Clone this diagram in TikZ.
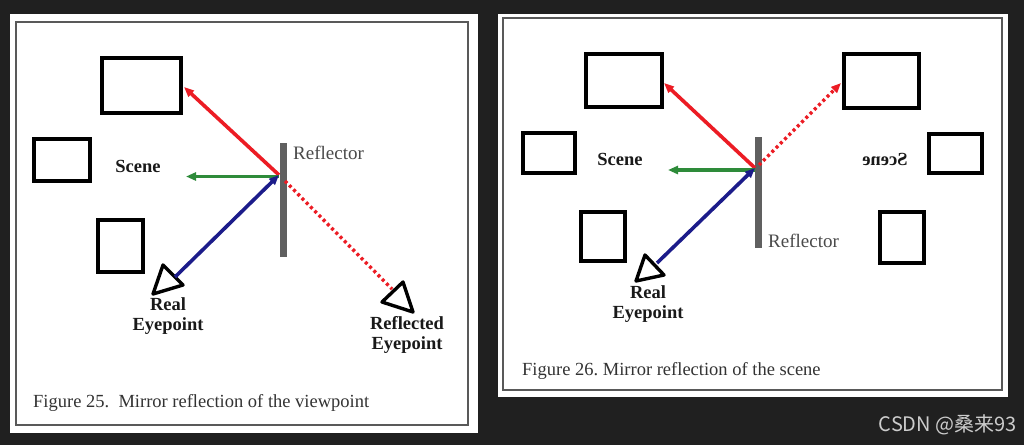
\documentclass[tikz,border=0pt]{standalone}
\usepackage{fontspec}
\setmainfont{Liberation Serif}
\newfontfamily\cjkfont{Noto Sans CJK SC}
\usetikzlibrary{arrows.meta}
\definecolor{bgdark}{HTML}{202020}
\definecolor{rayred}{HTML}{EC1C24}
\definecolor{raygreen}{HTML}{2E8B3A}
\definecolor{rayblue}{HTML}{1C1C8A}
\definecolor{mirrorgray}{HTML}{606060}
\definecolor{labelgray}{HTML}{4A4A4A}
\tikzset{
  objbox/.style={draw=black, line width=4pt, minimum width=#1, inner sep=0pt, fill=white},
  ray/.style={line width=3.6pt, -{Triangle[length=10pt,width=8pt]}},
  dotray/.style={line width=3.4pt, dash pattern=on 3pt off 3pt},
  mirror/.style={draw=mirrorgray, line width=7pt},
  eye/.style={draw=black, line width=3.4pt, line join=round},
  lbl/.style={inner sep=0pt, font=\fontsize{18.5}{20}\selectfont\bfseries, text=black!90, align=center},
  reflbl/.style={inner sep=0pt, anchor=west, font=\fontsize{19}{20}\selectfont, text=labelgray},
  caption/.style={inner sep=0pt, anchor=west, font=\fontsize{18.5}{20}\selectfont, text=black!80},
  panel/.style={fill=white},
  frame/.style={draw=black!65, line width=1.4pt}
}
\begin{document}
\begin{tikzpicture}[x=1pt,y=-1pt]
\useasboundingbox (0,0) rectangle (1024,445);
\fill[bgdark] (0,0) rectangle (1024,445);

% ---------- left panel ----------
\fill[panel] (10,14) rectangle (478,433);
\draw[frame] (16,22) rectangle (468,425);

\node[objbox=79pt, minimum height=55pt] (lt) at (141.5,85.5) {};
\node[objbox=56pt, minimum height=42pt] (lm) at (62,160) {};
\node[objbox=45pt, minimum height=52pt] (lb) at (120.5,246) {};

\draw[mirror] (283,143) -- (283,257);
\coordinate (p1) at (279,175);
\coordinate (p1b) at (285,181);
\coordinate (ltTip) at (184,87);
\coordinate (lgTip) at (186,176.5);
\coordinate (lgStart) at (279,176.5);
\coordinate (leye) at (175,277);
\coordinate (reye) at (392,289);

\draw[eye] (153,294) -- (163,265) -- (183,285) -- cycle;
\draw[eye] (382,302) -- (403,282) -- (413,312) -- cycle;

\draw[ray, rayred] (p1) -- (ltTip);
\draw[ray, raygreen] (lgStart) -- (lgTip);
\draw[ray, rayblue] (leye) -- (p1);
\draw[dotray, rayred] (p1b) -- (reye);

\node[lbl] (lscene) at (138,166) {Scene};
\node[reflbl] (lrefl) at (293,153) {Reflector};
\node[lbl] (lreal) at (168,316) {Real\\Eyepoint};
\node[lbl] (lrefeye) at (407,335) {Reflected\\Eyepoint};
\node[caption] (lcap) at (33,403) {Figure 25.\ \ Mirror reflection of the viewpoint};

% ---------- right panel ----------
\fill[panel] (498,14) rectangle (1008,397);
\draw[frame] (503,18) rectangle (1002,390);

\node[objbox=76pt, minimum height=53pt] (rtl) at (624,80.5) {};
\node[objbox=52pt, minimum height=40pt] (rml) at (549,153) {};
\node[objbox=44pt, minimum height=49pt] (rbl) at (603,236.5) {};
\node[objbox=75pt, minimum height=54pt] (rtr) at (881.5,81) {};
\node[objbox=53pt, minimum height=39pt] (rmr) at (955.5,153.5) {};
\node[objbox=44pt, minimum height=51pt] (rbr) at (902,237.5) {};

\draw[mirror] (758,137) -- (758,248);
\coordinate (p2) at (755,168);
\coordinate (p2b) at (759,165);
\coordinate (rtTip) at (664,83);
\coordinate (rgTip) at (668,170);
\coordinate (rgStart) at (755,170);
\coordinate (rdTip) at (841,83);
\coordinate (reye2) at (657,263);

\draw[eye] (636,281) -- (645,255) -- (664,275) -- cycle;

\draw[ray, rayred] (p2) -- (rtTip);
\draw[ray, raygreen] (rgStart) -- (rgTip);
\draw[ray, rayblue] (reye2) -- (p2);
\draw[dotray, rayred, -{Triangle[length=10pt,width=8pt]}] (p2b) -- (rdTip);

\node[lbl] (rscene) at (620,159) {Scene};
\node[lbl] (rscenem) at (885,159) {\scalebox{-1}[1]{Scene}};
\node[reflbl] (rrefl) at (768,241) {Reflector};
\node[lbl] (rreal) at (648,304) {Real\\Eyepoint};
\node[caption] (rcap) at (522,371) {Figure 26.\ Mirror reflection of the scene};

% ---------- watermark ----------
\node[inner sep=0pt, anchor=east, text=black!20, font=\cjkfont\fontsize{20}{22}\selectfont] (wm) at (1017,425) {CSDN @桑来93};
\end{tikzpicture}
\end{document}
